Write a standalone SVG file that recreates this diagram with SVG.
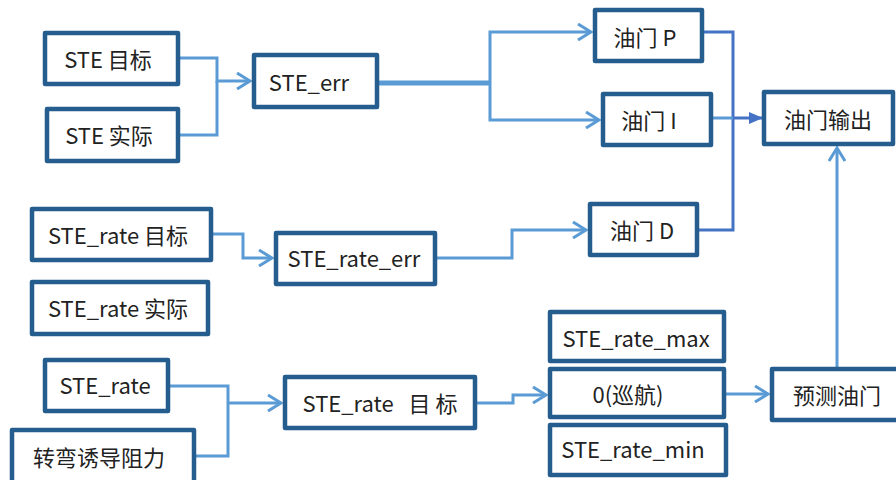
<svg xmlns="http://www.w3.org/2000/svg" width="896" height="480" viewBox="0 0 896 480">
<style>
.box{fill:#fff;stroke:#265D8F;stroke-width:4.5;stroke-linejoin:round}
.t{font-family:"Noto Sans CJK SC","Noto Sans",sans-serif;font-size:22px;fill:#222;text-anchor:middle}
.c{fill:none;stroke:#5B9BD5;stroke-width:3}
.d{fill:none;stroke:#4472C4;stroke-width:3}
</style>
<defs>
<marker id="ch" viewBox="0 0 16 18" refX="14" refY="9" markerWidth="16" markerHeight="18" markerUnits="userSpaceOnUse" orient="auto">
<path d="M1,1 L14,9 L1,17" fill="none" stroke="#5B9BD5" stroke-width="3"/>
</marker>
<marker id="tri" viewBox="0 0 14 14" refX="13" refY="7" markerWidth="14" markerHeight="14" markerUnits="userSpaceOnUse" orient="auto">
<path d="M0,1 L14,7 L0,13 Z" fill="#4472C4"/>
</marker>
</defs>
<rect width="896" height="480" fill="#fff"/>
<g id="connectors">
<path class="c" d="M180,58 H217 V81 H250" marker-end="url(#ch)"/>
<path class="c" d="M180,135 H217 V81"/>
<path d="M379,83 H490" fill="none" stroke="#5B9BD5" stroke-width="5"/>
<path class="c" d="M490,83 V32 H591" marker-end="url(#ch)"/>
<path class="c" d="M490,83 V120 H599" marker-end="url(#ch)"/>
<path class="c" d="M213,234 H243 V258 H272" marker-end="url(#ch)"/>
<path class="c" d="M437,258 H512 V230 H586" marker-end="url(#ch)"/>
<path class="d" d="M704,32 H733 V230 H699"/>
<path class="c" d="M713,118 H733"/>
<path class="d" d="M733,118 H762" marker-end="url(#tri)"/>
<path class="c" d="M170,386 H228 V456 H196"/>
<path class="c" d="M228,403 H281" marker-end="url(#ch)"/>
<path class="c" d="M477,403 H513 V395 H546" marker-end="url(#ch)"/>
<path class="c" d="M726,394 H768" marker-end="url(#ch)"/>
<path class="c" d="M837,367 V148" marker-end="url(#ch)"/>
</g>
<g id="ste_target"><rect class="box" x="45" y="33" width="133" height="51"/><text class="t" x="108" y="68">STE 目标</text></g>
<g id="ste_actual"><rect class="box" x="47" y="109" width="131" height="52"/><text class="t" x="109" y="144">STE 实际</text></g>
<g id="ste_err"><rect class="box" x="254" y="55" width="123" height="52"/><text class="t" x="309" y="91">STE_err</text></g>
<g id="throttle_p"><rect class="box" x="595" y="10" width="107" height="51"/><text class="t" x="645" y="46">油门 P</text></g>
<g id="throttle_i"><rect class="box" x="603" y="94" width="108" height="51"/><text class="t" x="649" y="129">油门 I</text></g>
<g id="throttle_d"><rect class="box" x="590" y="204" width="107" height="51"/><text class="t" x="642" y="239">油门 D</text></g>
<g id="throttle_out"><rect class="box" x="764" y="92" width="129" height="52"/><text class="t" x="828" y="128">油门输出</text></g>
<g id="rate_target"><rect class="box" x="32" y="209" width="179" height="51"/><text class="t" x="118" y="244">STE_rate 目标</text></g>
<g id="rate_err"><rect class="box" x="276" y="233" width="159" height="51"/><text class="t" x="354" y="267">STE_rate_err</text></g>
<g id="rate_actual"><rect class="box" x="32" y="282" width="176" height="52"/><text class="t" x="118" y="317">STE_rate 实际</text></g>
<g id="ste_rate"><rect class="box" x="45" y="360" width="123" height="51"/><text class="t" x="105" y="394">STE_rate</text></g>
<g id="drag"><rect class="box" x="12" y="430" width="182" height="60"/><text class="t" x="99" y="466">转弯诱导阻力</text></g>
<g id="rate_target2"><rect class="box" x="285" y="377" width="190" height="51"/><text class="t" x="380" y="412" xml:space="preserve">STE_rate   目 标</text></g>
<g id="rate_max"><rect class="box" x="550" y="312" width="174" height="49"/><text class="t" x="636" y="347">STE_rate_max</text></g>
<g id="cruise"><rect class="box" x="550" y="369" width="174" height="48"/><text class="t" x="628" y="403">0(巡航)</text></g>
<g id="rate_min"><rect class="box" x="550" y="425" width="176" height="50"/><text class="t" x="633" y="458">STE_rate_min</text></g>
<g id="predict"><rect class="box" x="772" y="369" width="130" height="51"/><text class="t" x="837" y="404">预测油门</text></g>
</svg>
